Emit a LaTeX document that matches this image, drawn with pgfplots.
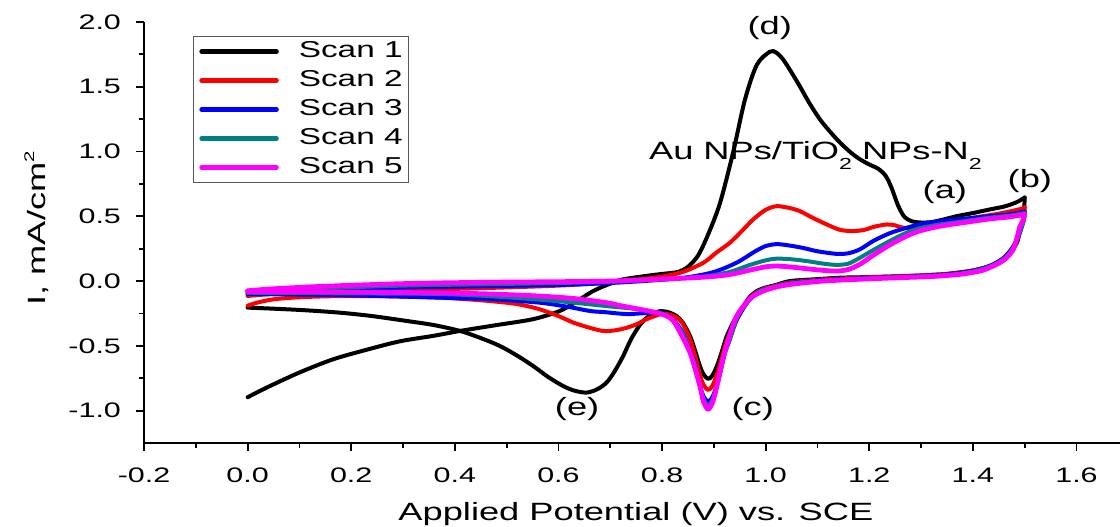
\documentclass[border=0pt]{standalone}
\usepackage{fontspec}
\setmainfont{Liberation Sans}[FakeStretch=1.45]
\usepackage{pgfplots}
\pgfplotsset{compat=1.18}
\usetikzlibrary{calc}
\definecolor{scanteal}{RGB}{0,128,128}
\definecolor{scanmag}{RGB}{255,0,255}
\newcommand{\sub}[1]{\raisebox{-5pt}{\fontsize{8}{8}\selectfont #1}}

\begin{document}
\begin{tikzpicture}
\begin{axis}[
  name=ax, scale only axis, width=488pt, height=210.5pt,
  xmin=-0.2, xmax=1.684, ymin=-1.25, ymax=2.0,
  clip=false,
  axis x line*=bottom, axis y line*=left,
  axis line style={line width=1pt, -},
  tick align=outside, major tick length=4pt, minor tick length=2.5pt,
  every tick/.style={line width=0.9pt, black},
  xtick={-0.2,0,0.2,0.4,0.6,0.8,1.0,1.2,1.4,1.6}, minor x tick num=1,
  ytick={-1,-0.5,0,0.5,1,1.5,2}, minor y tick num=1,
  /pgf/number format/fixed, /pgf/number format/fixed zerofill, /pgf/number format/precision=1,
  /pgf/number format/assume math mode=true,
  tick label style={font=\fontsize{10.5}{12}\selectfont},
  xticklabel style={anchor=base, yshift=-16pt},
  yticklabel style={anchor=east, xshift=-4pt},
  xlabel={Applied Potential (V) vs. SCE},
  xlabel style={font=\fontsize{12.5}{14}\selectfont, anchor=base, at={(axis description cs:0.504,-0.185)}},
  ylabel={I, mA/cm\raisebox{5.5pt}{\fontsize{7}{7}\selectfont 2}},
  ylabel style={font=\fontsize{12.5}{14}\selectfont, anchor=base, at={(axis description cs:-0.1014,0.51)}},
  legend style={at={(rel axis cs:0.05,0.967)}, anchor=north west, draw=gray!70!black, line width=0.6pt, fill=white,
    font=\fontsize{11.5}{13}\selectfont, inner xsep=3pt, inner ysep=2pt, row sep=3.5pt,
    nodes={inner sep=0pt, text height=8.5pt, text depth=2.5pt},
    /tikz/every odd column/.append style={column sep=10pt}},
  legend cell align=left,
  legend image code/.code={\draw[#1, line width=2.2pt] (0pt,0pt) -- (37.5pt,0pt);},
  every axis plot/.append style={line width=2pt, line join=round, line cap=round, smooth, tension=0.5},
]
% ---- Scan 1
\addplot[black] coordinates {
(0.00,-0.897) (0.037,-0.822) (0.1,-0.706) (0.165,-0.604) (0.23,-0.53) (0.294,-0.465) (0.36,-0.422) (0.41,-0.385) (0.48,-0.34) (0.55,-0.295) (0.60,-0.235) (0.63,-0.17) (0.667,-0.077) (0.70,-0.02) (0.725,0.013) (0.77,0.04) (0.80,0.055) (0.83,0.07) (0.85,0.11) (0.87,0.2) (0.89,0.37) (0.912,0.604) (0.937,0.99) (0.96,1.40) (0.983,1.67) (1.008,1.77) (1.02,1.765) (1.034,1.709) (1.05,1.61) (1.066,1.503) (1.085,1.37) (1.105,1.247) (1.125,1.15) (1.144,1.067) (1.165,0.99) (1.182,0.94) (1.20,0.90) (1.218,0.865) (1.232,0.81) (1.243,0.72) (1.256,0.58) (1.268,0.495) (1.282,0.462) (1.30,0.452) (1.32,0.455) (1.34,0.472) (1.369,0.501) (1.40,0.525) (1.433,0.553) (1.46,0.575) (1.478,0.598) (1.49,0.62) (1.50,0.645)
};
\addlegendentry{Scan 1}
\addplot[black, forget plot] coordinates {
(1.50,0.645) (1.499,0.55) (1.497,0.476) (1.49,0.37) (1.485,0.296) (1.475,0.235) (1.465,0.193) (1.45,0.15) (1.433,0.116) (1.41,0.09) (1.394,0.077) (1.36,0.06) (1.337,0.05) (1.29,0.04) (1.24,0.035) (1.19,0.03) (1.144,0.026) (1.10,0.015) (1.047,0.0) (1.02,-0.03) (1.00,-0.05) (0.983,-0.077) (0.97,-0.12) (0.957,-0.193) (0.94,-0.30) (0.925,-0.424) (0.915,-0.55) (0.906,-0.655) (0.897,-0.73) (0.889,-0.755) (0.88,-0.72) (0.873,-0.655) (0.864,-0.54) (0.854,-0.424) (0.84,-0.32) (0.828,-0.27) (0.812,-0.24) (0.797,-0.232) (0.783,-0.25) (0.77,-0.285) (0.757,-0.34) (0.74,-0.45) (0.725,-0.578) (0.708,-0.70) (0.693,-0.783) (0.675,-0.835) (0.654,-0.861) (0.63,-0.845) (0.609,-0.81) (0.58,-0.74) (0.551,-0.655) (0.52,-0.575) (0.487,-0.501) (0.45,-0.44) (0.41,-0.385) (0.36,-0.34) (0.307,-0.308) (0.24,-0.27) (0.178,-0.244) (0.11,-0.225) (0.049,-0.213) (0.0,-0.205)
};
% ---- Scan 2
\addplot[red] coordinates {
(0.0,-0.115) (0.05,-0.10) (0.15,-0.085) (0.3,-0.07) (0.45,-0.055) (0.6,-0.035) (0.7,-0.01) (0.75,0.01) (0.80,0.035) (0.84,0.07) (0.88,0.142) (0.905,0.22) (0.931,0.296) (0.955,0.39) (0.976,0.476) (1.0,0.55) (1.021,0.578) (1.045,0.565) (1.066,0.54) (1.09,0.49) (1.118,0.437) (1.144,0.395) (1.169,0.386) (1.19,0.395) (1.21,0.42) (1.234,0.437) (1.25,0.43) (1.266,0.411) (1.29,0.41) (1.311,0.424) (1.35,0.45) (1.401,0.489) (1.45,0.52) (1.491,0.555) (1.50,0.57)
};
\addlegendentry{Scan 2}
\addplot[red, forget plot] coordinates {
(1.50,0.57) (1.499,0.50) (1.495,0.44) (1.488,0.35) (1.48,0.28) (1.47,0.22) (1.455,0.165) (1.44,0.13) (1.42,0.10) (1.394,0.077) (1.36,0.058) (1.30,0.045) (1.24,0.035) (1.19,0.028) (1.144,0.02) (1.10,0.01) (1.047,-0.01) (1.02,-0.035) (1.0,-0.055) (0.983,-0.085) (0.97,-0.13) (0.957,-0.21) (0.94,-0.33) (0.925,-0.46) (0.915,-0.6) (0.906,-0.72) (0.897,-0.81) (0.889,-0.84) (0.88,-0.80) (0.873,-0.72) (0.864,-0.58) (0.854,-0.45) (0.84,-0.33) (0.828,-0.28) (0.81,-0.255) (0.796,-0.257) (0.77,-0.295) (0.75,-0.335) (0.732,-0.36) (0.71,-0.38) (0.686,-0.385) (0.66,-0.36) (0.629,-0.321) (0.60,-0.27) (0.564,-0.218) (0.53,-0.185) (0.5,-0.167) (0.44,-0.145) (0.371,-0.128) (0.28,-0.118) (0.178,-0.116) (0.10,-0.125) (0.05,-0.141) (0.02,-0.165) (0.0,-0.19)
};
% ---- Scan 3
\addplot[blue] coordinates {
(0.0,-0.10) (0.05,-0.085) (0.15,-0.07) (0.3,-0.05) (0.45,-0.04) (0.6,-0.03) (0.7,-0.015) (0.8,0.01) (0.85,0.03) (0.9,0.07) (0.944,0.142) (0.98,0.23) (1.0,0.27) (1.021,0.285) (1.045,0.275) (1.073,0.255) (1.1,0.23) (1.137,0.21) (1.16,0.215) (1.182,0.245) (1.208,0.31) (1.24,0.37) (1.272,0.411) (1.30,0.44) (1.337,0.463) (1.38,0.48) (1.433,0.501) (1.47,0.515) (1.50,0.535)
};
\addlegendentry{Scan 3}
\addplot[blue, forget plot] coordinates {
(1.50,0.535) (1.498,0.47) (1.493,0.40) (1.485,0.32) (1.475,0.25) (1.46,0.18) (1.44,0.13) (1.42,0.10) (1.394,0.075) (1.36,0.055) (1.30,0.04) (1.24,0.03) (1.144,0.015) (1.10,0.005) (1.047,-0.015) (1.02,-0.04) (0.99,-0.075) (0.976,-0.116) (0.96,-0.19) (0.944,-0.30) (0.93,-0.46) (0.921,-0.56) (0.91,-0.74) (0.899,-0.88) (0.889,-0.93) (0.879,-0.88) (0.87,-0.76) (0.862,-0.62) (0.854,-0.54) (0.84,-0.40) (0.822,-0.30) (0.80,-0.25) (0.78,-0.245) (0.757,-0.25) (0.735,-0.255) (0.712,-0.249) (0.69,-0.24) (0.661,-0.231) (0.62,-0.2) (0.564,-0.167) (0.47,-0.14) (0.371,-0.128) (0.25,-0.115) (0.12,-0.105) (0.0,-0.10)
};
% ---- Scan 4
\addplot[scanteal] coordinates {
(0.0,-0.09) (0.05,-0.075) (0.15,-0.055) (0.3,-0.035) (0.45,-0.025) (0.6,-0.015) (0.7,-0.005) (0.8,0.015) (0.88,0.035) (0.93,0.07) (0.97,0.125) (1.0,0.16) (1.021,0.173) (1.05,0.168) (1.08,0.154) (1.11,0.135) (1.137,0.125) (1.16,0.135) (1.182,0.18) (1.208,0.24) (1.24,0.31) (1.272,0.373) (1.30,0.41) (1.337,0.437) (1.38,0.46) (1.433,0.49) (1.47,0.505) (1.50,0.525)
};
\addlegendentry{Scan 4}
\addplot[scanteal, forget plot] coordinates {
(1.50,0.525) (1.498,0.46) (1.492,0.40) (1.485,0.32) (1.476,0.245) (1.462,0.18) (1.443,0.13) (1.42,0.095) (1.394,0.07) (1.36,0.05) (1.30,0.037) (1.24,0.028) (1.144,0.012) (1.10,0.002) (1.047,-0.018) (1.02,-0.04) (0.99,-0.075) (0.976,-0.116) (0.96,-0.185) (0.944,-0.29) (0.932,-0.43) (0.921,-0.556) (0.911,-0.73) (0.899,-0.90) (0.889,-0.96) (0.879,-0.90) (0.871,-0.77) (0.862,-0.63) (0.854,-0.55) (0.84,-0.41) (0.822,-0.305) (0.805,-0.26) (0.78,-0.235) (0.757,-0.218) (0.693,-0.193) (0.596,-0.154) (0.48,-0.12) (0.371,-0.10) (0.2,-0.095) (0.0,-0.09)
};
% ---- Scan 5
\addplot[scanmag, line width=2.4pt] coordinates {
(0.0,-0.075) (0.05,-0.06) (0.15,-0.04) (0.3,-0.02) (0.45,-0.01) (0.6,-0.005) (0.7,0.0) (0.8,0.015) (0.88,0.03) (0.93,0.05) (0.97,0.085) (1.0,0.11) (1.021,0.116) (1.05,0.108) (1.08,0.095) (1.11,0.083) (1.137,0.077) (1.16,0.09) (1.182,0.13) (1.208,0.2) (1.24,0.28) (1.272,0.347) (1.30,0.39) (1.337,0.424) (1.38,0.45) (1.433,0.48) (1.47,0.495) (1.50,0.515)
};
\addlegendentry{Scan 5}
\addplot[scanmag, line width=2.4pt, forget plot] coordinates {
(1.50,0.515) (1.497,0.47) (1.491,0.424) (1.485,0.33) (1.478,0.244) (1.465,0.18) (1.452,0.142) (1.43,0.10) (1.413,0.077) (1.375,0.052) (1.32,0.035) (1.25,0.025) (1.17,0.012) (1.111,0.0) (1.06,-0.02) (1.028,-0.039) (1.0,-0.07) (0.976,-0.116) (0.96,-0.18) (0.944,-0.27) (0.932,-0.40) (0.921,-0.552) (0.913,-0.68) (0.906,-0.81) (0.898,-0.93) (0.889,-0.99) (0.88,-0.93) (0.873,-0.81) (0.864,-0.68) (0.854,-0.552) (0.838,-0.42) (0.822,-0.308) (0.809,-0.27) (0.79,-0.245) (0.757,-0.218) (0.72,-0.19) (0.693,-0.167) (0.63,-0.135) (0.564,-0.116) (0.47,-0.10) (0.371,-0.092) (0.2,-0.085) (0.0,-0.08)
};
% ---- annotations
\node[font=\fontsize{12.5}{14}\selectfont] at (axis cs:1.008,1.956) {(d)};
\node[font=\fontsize{12.5}{14}\selectfont] at (axis cs:1.346,0.684) {(a)};
\node[font=\fontsize{12.5}{14}\selectfont] at (axis cs:1.51,0.769) {(b)};
\node[font=\fontsize{12.5}{14}\selectfont] at (axis cs:0.975,-0.989) {(c)};
\node[font=\fontsize{12.5}{14}\selectfont] at (axis cs:0.636,-0.989) {(e)};
\node[font=\fontsize{12.5}{14}\selectfont, anchor=base] at (axis cs:1.096,0.94) {Au NPs/TiO\sub{2} NPs-N\sub{2}};
\end{axis}
\pgfresetboundingbox
\useasboundingbox ($(ax.south west)+(-72pt,-42pt)$) rectangle ($(ax.north east)+(0pt,11pt)$);
\end{tikzpicture}
\end{document}
